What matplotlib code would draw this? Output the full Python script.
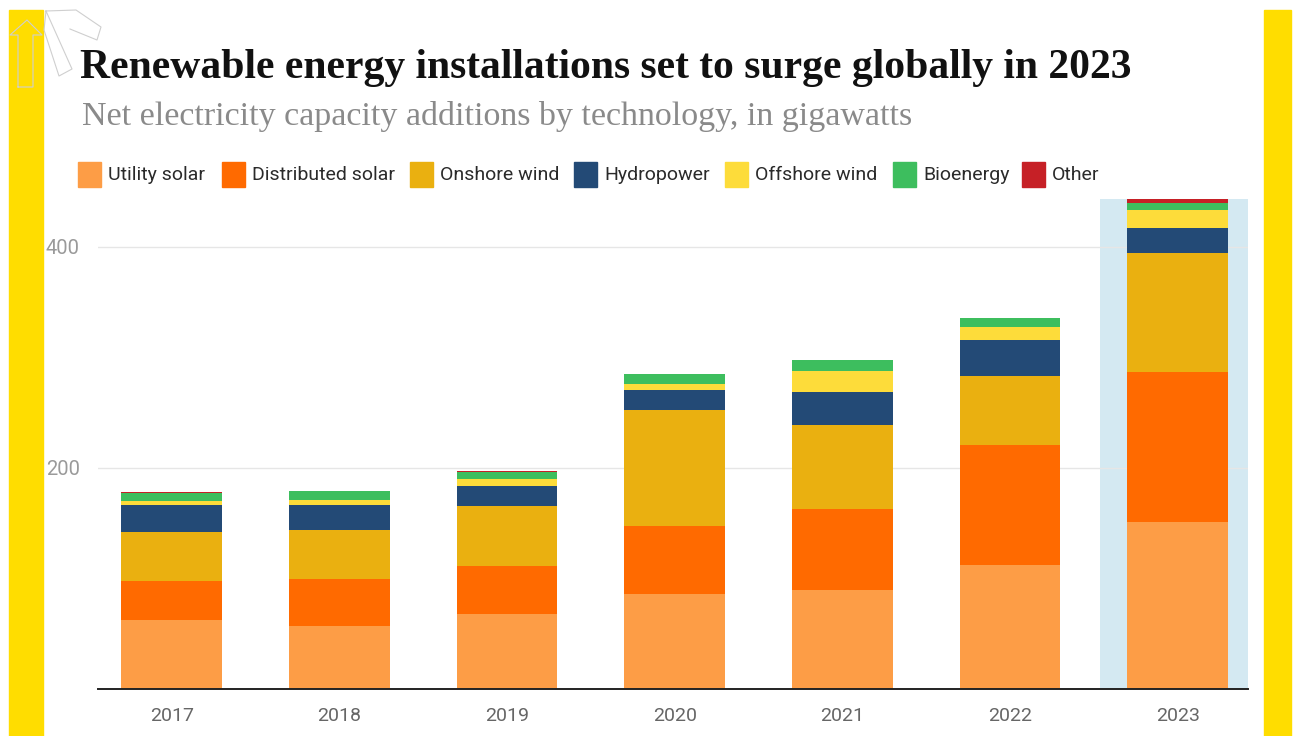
import matplotlib
matplotlib.use("Agg")
import matplotlib.pyplot as plt
import numpy as np
from matplotlib.patches import Rectangle
from matplotlib.lines import Line2D

# Net capacity additions, GW
years = ["2017", "2018", "2019", "2020", "2021", "2022", "2023"]
utility_solar = [62.4, 57.0, 67.9, 86.0, 89.6, 112.5, 150.9]
distributed_solar = [35.6, 42.3, 43.4, 61.5, 73.3, 107.7, 135.7]
onshore_wind = [43.8, 44.6, 53.7, 104.3, 75.4, 62.4, 107.7]
hydropower = [24.1, 22.3, 18.1, 18.1, 30.2, 33.2, 22.9]
offshore_wind = [4.3, 4.8, 6.7, 6.1, 19.0, 11.1, 16.3]
bioenergy = [7.0, 8.4, 6.6, 9.0, 10.2, 8.1, 6.1]
other = [0.9, 0.0, 1.0, 0.0, 0.0, 0.0, 3.3]

series = [
    ("Utility solar", utility_solar, "#fd9d46"),
    ("Distributed solar", distributed_solar, "#ff6a00"),
    ("Onshore wind", onshore_wind, "#eab010"),
    ("Hydropower", hydropower, "#234a76"),
    ("Offshore wind", offshore_wind, "#fddc3a"),
    ("Bioenergy", bioenergy, "#3dbe5e"),
    ("Other", other, "#c62026"),
]

W, H = 1298, 736
fig = plt.figure(figsize=(W / 100, H / 100), dpi=100)
fig.patch.set_facecolor("white")

# yellow side strips
for x0, x1 in [(9, 43), (1264, 1291)]:
    fig.patches.append(Rectangle((x0 / W, 0), (x1 - x0) / W, 1 - 10 / H,
                                 transform=fig.transFigure, color="#ffdd00", zorder=0))

# faint logo outline in the corner
def px_line(pts):
    xs = [p[0] / W for p in pts]
    ys = [1 - p[1] / H for p in pts]
    fig.lines.append(Line2D(xs, ys, transform=fig.transFigure, color="#cfcfcf", lw=0.8))

px_line([(18, 87), (18, 35), (10, 35), (27, 20), (42, 35), (33, 35), (33, 87), (18, 87)])
px_line([(46, 11), (76, 10), (101, 27), (97, 40), (70, 29)])
px_line([(46, 11), (72, 69), (59, 76), (44, 30), (46, 11)])

ax = fig.add_axes([98 / W, 47 / H, 1150 / W, 490 / H])
x = np.arange(len(years))
ymax = 443

# highlight band behind the forecast year
ax.axvspan(5.535, 6.42, ymin=0, ymax=1, color="#d4e9f2", zorder=0, lw=0)

bottom = np.zeros(len(years))
for name, vals, col in series:
    vals = np.array(vals)
    ax.bar(x, vals, 0.6, bottom=bottom, color=col, zorder=2, lw=0)
    bottom += vals

ax.set_xlim(-0.44, 6.42)
ax.set_ylim(0, ymax)
ax.set_yticks([200, 400])
ax.set_yticklabels(["200", "400"])
ax.set_xticks(x)
ax.set_xticklabels(years)
ax.grid(axis="y", color="#e6e6e6", lw=1, zorder=1)
ax.set_axisbelow(True)
for s in ["top", "right", "left"]:
    ax.spines[s].set_visible(False)
ax.spines["bottom"].set_color("#222222")
ax.spines["bottom"].set_linewidth(1.4)
ax.spines["bottom"].set_zorder(3)
ax.tick_params(axis="both", length=0)
ax.tick_params(axis="x", pad=13, labelsize=14, labelcolor="#666666")
ax.tick_params(axis="y", pad=13, labelsize=14.5, labelcolor="#9a9a9a")
for lab in ax.get_xticklabels() + ax.get_yticklabels():
    lab.set_family("Roboto")

# titles
fig.text(80 / W, 1 - 78 / H, "Renewable energy installations set to surge globally in 2023",
         family="Liberation Serif", weight="bold", size=30, color="#111111", va="baseline")
fig.text(82 / W, 1 - 125 / H, "Net electricity capacity additions by technology, in gigawatts",
         family="Liberation Serif", size=24.5, color="#8a8a8a", va="baseline")

# legend row
leg_x = [78, 222, 410, 574, 725, 893, 1022]
for (name, vals, col), lx in zip(series, leg_x):
    fig.patches.append(Rectangle((lx / W, 1 - 187 / H), 23 / W, 25 / H,
                                 transform=fig.transFigure, color=col))
    fig.text((lx + 30) / W, 1 - 175 / H, name, family="Roboto",
             size=14, color="#2a2a2a", va="center")

fig.savefig("out.png", dpi=100)
